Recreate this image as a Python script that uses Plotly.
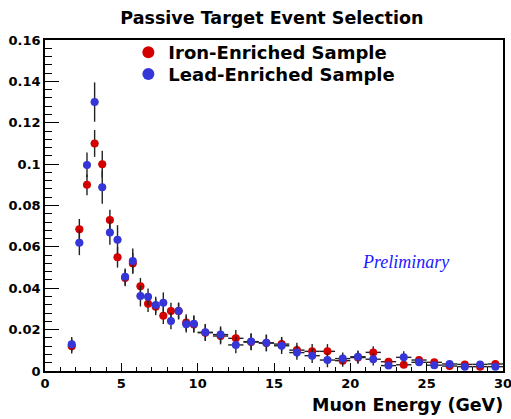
import plotly.graph_objects as go

# Bin centers (GeV) and half-widths
energy = [1.75, 2.25, 2.75, 3.25, 3.75, 4.25, 4.75, 5.25, 5.75, 6.25, 6.75, 7.25, 7.75,
          8.25, 8.75, 9.25, 9.75, 10.5, 11.5, 12.5, 13.5, 14.5, 15.5, 16.5, 17.5, 18.5,
          19.5, 20.5, 21.5, 22.5, 23.5, 24.5, 25.5, 26.5, 27.5, 28.5, 29.5]
half_width = [0.25] * 17 + [0.5] * 20

iron = [0.012, 0.0685, 0.090, 0.110, 0.100, 0.073, 0.055, 0.045, 0.052, 0.041, 0.0325, 0.031, 0.0267,
        0.029, 0.029, 0.0234, 0.0225, 0.0185, 0.0169, 0.0158, 0.014, 0.0135, 0.013, 0.0101, 0.0095, 0.0095,
        0.005, 0.0065, 0.009, 0.0045, 0.003, 0.0053, 0.0042, 0.0024, 0.0032, 0.0021, 0.0034]
iron_err = [0.0035, 0.005, 0.005, 0.0065, 0.0065, 0.005, 0.005, 0.004, 0.005, 0.004, 0.004, 0.004, 0.004,
            0.004, 0.004, 0.004, 0.004, 0.004, 0.004, 0.004, 0.004, 0.004, 0.0035, 0.0035, 0.0035, 0.0035,
            0.003, 0.003, 0.003, 0.0015, 0.0015, 0.0015, 0.0015, 0.0015, 0.0015, 0.0015, 0.0015]

lead = [0.0129, 0.062, 0.0996, 0.130, 0.0888, 0.067, 0.0635, 0.0456, 0.0532, 0.0362, 0.0359, 0.0319, 0.033,
        0.0242, 0.029, 0.0226, 0.0229, 0.0187, 0.0176, 0.0126, 0.0142, 0.0136, 0.0122, 0.0089, 0.0074, 0.0053,
        0.006, 0.0069, 0.0057, 0.0026, 0.0066, 0.0042, 0.0028, 0.0034, 0.0021, 0.0032, 0.0021]
lead_err = [0.0035, 0.006, 0.006, 0.0095, 0.008, 0.006, 0.007, 0.004, 0.006, 0.005, 0.004, 0.004, 0.005,
            0.004, 0.004, 0.004, 0.004, 0.004, 0.004, 0.004, 0.004, 0.004, 0.004, 0.0035, 0.0035, 0.0035,
            0.003, 0.003, 0.003, 0.0015, 0.003, 0.0015, 0.0015, 0.0015, 0.0015, 0.0015, 0.0015]

FONT = "DejaVu Sans"
RED = "#D40000"
BLUE = "#3535D8"

fig = go.Figure()
for name, vals, errs, col, lg in [("Iron-Enriched Sample", iron, iron_err, RED, "legend"),
                                  ("Lead-Enriched Sample", lead, lead_err, BLUE, "legend2")]:
    fig.add_trace(go.Scatter(
        x=energy, y=vals, mode="markers", name=name, legend=lg,
        marker=dict(color=col, size=8, line=dict(width=0)),
        error_y=dict(type="data", array=errs, visible=True, color="#222222", thickness=1.4, width=0),
        error_x=dict(type="data", array=half_width, visible=True, color="#222222", thickness=1.4, width=0),
    ))

leg_font = dict(family=FONT, size=18, color="black", weight="bold")
fig.update_layout(
    width=511, height=419,
    margin=dict(l=45, r=8, t=40, b=48, autoexpand=False),
    paper_bgcolor="white", plot_bgcolor="white",
    title=dict(text="Passive Target Event Selection", x=0.532, xanchor="center", y=0.957, yanchor="middle",
               font=dict(family=FONT, size=17.5, color="black", weight="bold")),
    showlegend=True,
    legend=dict(x=0.182, y=1.018, xanchor="left", yanchor="top", bgcolor="rgba(0,0,0,0)",
                font=leg_font, itemsizing="constant"),
    legend2=dict(x=0.182, y=0.952, xanchor="left", yanchor="top", bgcolor="rgba(0,0,0,0)",
                 font=leg_font, itemsizing="constant"),
    font=dict(family=FONT, color="black"),
)

fig.update_xaxes(range=[0, 30], showgrid=False, zeroline=False, automargin=False,
                 ticklabeloverflow="allow",
                 showline=True, linecolor="black", linewidth=1.5, mirror=True,
                 ticks="inside", ticklen=8, tickwidth=1, tickcolor="black",
                 tick0=0, dtick=5,
                 minor=dict(ticks="inside", ticklen=4, dtick=1, tickcolor="black", tickwidth=1),
                 tickfont=dict(family=FONT, size=13, color="black", weight="bold"))
fig.update_yaxes(range=[0, 0.16], showgrid=False, zeroline=False, automargin=False,
                 ticklabeloverflow="allow",
                 showline=True, linecolor="black", linewidth=1.5, mirror=True,
                 ticks="inside", ticklen=14, tickwidth=1, tickcolor="black",
                 tick0=0, dtick=0.02, tickformat="~g",
                 minor=dict(ticks="inside", ticklen=7, dtick=0.004, tickcolor="black", tickwidth=1),
                 tickfont=dict(family=FONT, size=13, color="black", weight="bold"))

fig.add_annotation(text="Muon Energy (GeV)", xref="paper", yref="paper", x=1.005, y=0, xanchor="right",
                   yanchor="top", yshift=-22, showarrow=False,
                   font=dict(family=FONT, size=17.5, color="black", weight="bold"))
fig.add_annotation(text="<i>Preliminary</i>", xref="x", yref="y", x=23.6, y=0.0527, showarrow=False,
                   xanchor="center", yanchor="middle",
                   font=dict(family="Liberation Serif", size=18, color="#1a1aff"))

fig.write_html("out.html", config={"displayModeBar": False},
               post_script="document.body.style.margin='0';")
